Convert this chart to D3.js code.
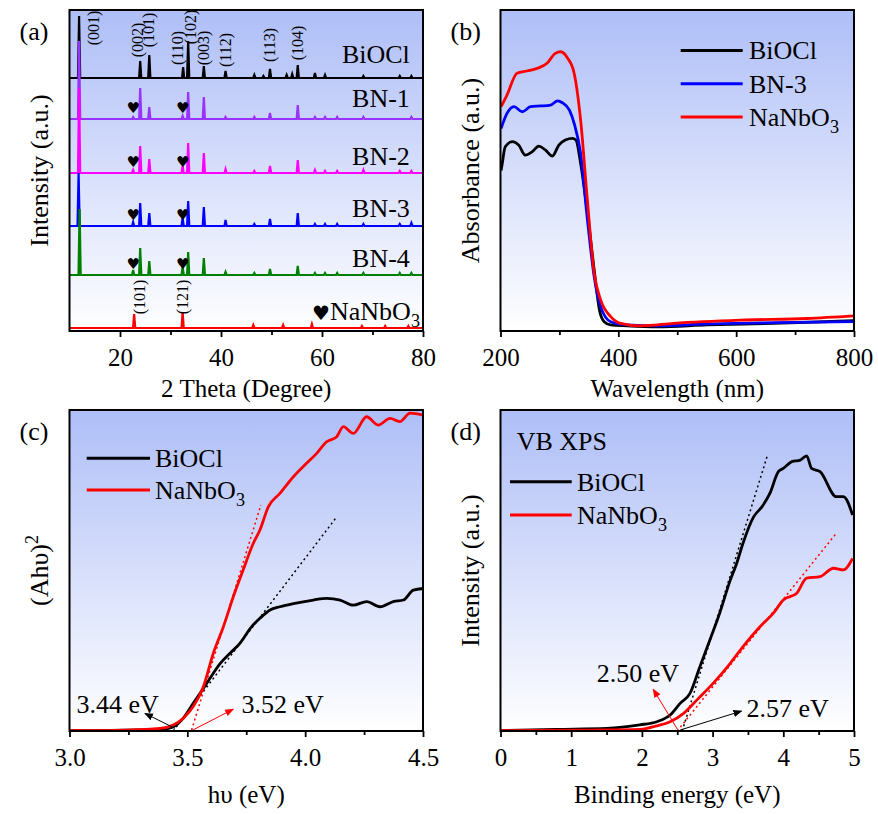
<!DOCTYPE html>
<html>
<head>
<meta charset="utf-8">
<script src="https://cdn.jsdelivr.net/npm/d3@7"></script>
<style>
  body { margin: 0; background: #fff; }
  text { font-family: "Liberation Serif", "Times New Roman", serif; fill: #000; }
</style>
</head>
<body>
<div id="chart"></div>
<script>
// ---------- (a) XRD patterns: [2theta, peak height] ----------
var xrdNames   = ["BiOCl", "BN-1", "BN-2", "BN-3", "BN-4", "NaNbO3"];
var xrdColors  = ["#000000", "#9933ff", "#ff00ff", "#0000ff", "#008000", "#ff0000"];
var xrdOffsets = [253, 212, 158, 105, 56, 3];
var peaksBiOCl = [[11.9,62],[24.0,17],[25.8,23],[32.5,11],[33.5,37],[36.6,12],[40.9,7],[46.6,3],[48.4,2],[49.7,9],[53.0,3],[54.1,4],[55.2,13],[58.6,5],[60.6,3],[68.2,2],[75.4,2],[77.7,2]];
var peaksBN1   = [[11.9,78],[22.6,2],[24.0,31],[25.8,12],[32.4,3],[33.5,27],[36.6,22],[40.9,2],[46.6,2],[49.7,6],[55.2,14],[58.6,2],[60.6,2],[63.0,2],[68.2,2],[77.7,2]];
var peaksBN2   = [[11.9,85],[22.6,3],[24.0,27],[25.8,14],[32.4,7],[33.5,30],[36.6,20],[40.9,4],[46.6,2],[49.7,7],[55.2,13],[58.6,3],[60.6,2],[63.0,2],[68.2,3],[75.4,2],[77.7,2]];
var peaksBN3   = [[11.8,53],[22.6,4],[24.0,23],[25.8,13],[32.4,8],[33.5,25],[36.6,19],[40.9,6],[46.6,2],[49.7,7],[55.2,13],[58.6,2],[60.6,2],[63.0,2],[68.2,2],[75.4,2],[77.7,3]];
var peaksBN4   = [[12.0,66],[22.6,5],[24.0,27],[25.8,14],[32.4,8],[33.5,23],[36.6,17],[40.9,3],[46.6,2],[49.7,6],[55.2,9],[58.6,2],[60.6,2],[63.0,2],[68.2,2],[75.4,2],[77.7,2]];
var peaksNaNbO3 = [[22.8,14],[32.4,16],[46.4,3],[52.3,3],[58.0,4],[67.9,2],[72.5,2],[77.1,2]];
var xrdPeaks = [peaksBiOCl, peaksBN1, peaksBN2, peaksBN3, peaksBN4, peaksNaNbO3];
var heartPos = [22.6, 32.4];
// hkl labels: [text, 2theta, intensity]
var hklBiOCl  = [["(001)",14.7,303],["(002)",23.4,291],["(101)",25.7,301],["(110)",31.3,283],["(102)",34.0,304],["(003)",36.6,283],["(112)",40.8,281],["(113)",49.7,286],["(104)",55.2,288]];
var hklNaNbO3 = [["(101)",23.9,34],["(121)",32.4,34]];
var xTicksA = [20, 40, 60, 80], xMinorA = [30, 50, 70];

// ---------- (b) UV-vis absorbance: [wavelength, absorbance] ----------
var uvNames  = ["BiOCl", "BN-3", "NaNbO3"];
var uvColors = ["#000000", "#0000ff", "#ff0000"];
var uvBiOCl  = [[201,0.50],[203,0.522],[208,0.574],[220,0.590],[231,0.579],[242,0.548],[254,0.559],[265,0.576],[276,0.564],[288,0.545],[299,0.579],[310,0.595],[322,0.600],[328,0.595],[336,0.522],[347,0.377],[359,0.190],[368,0.065],[376,0.029],[387,0.019],[415,0.016],[467,0.013],[551,0.019],[664,0.024],[800,0.032]];
var uvBN3    = [[201,0.631],[211,0.678],[223,0.699],[237,0.683],[251,0.699],[268,0.701],[285,0.704],[297,0.717],[305,0.711],[317,0.688],[325,0.647],[336,0.553],[347,0.356],[359,0.169],[370,0.076],[387,0.029],[415,0.019],[467,0.016],[551,0.022],[664,0.026],[800,0.029]];
var uvNaNbO3 = [[201,0.699],[211,0.735],[228,0.803],[245,0.810],[262,0.818],[279,0.834],[293,0.865],[302,0.870],[314,0.850],[325,0.803],[336,0.657],[347,0.418],[359,0.180],[370,0.097],[387,0.045],[404,0.024],[438,0.016],[494,0.024],[607,0.034],[720,0.039],[800,0.047]];
var uvSeries = [uvBiOCl, uvBN3, uvNaNbO3];
var xTicksB = [200, 400, 600, 800], xMinorB = [300, 500, 700];

// ---------- (c) Tauc plot: [hv, (Ahv)^2] ----------
var taucBiOCl  = [[3.00,0.001],[3.384,0.005],[3.44,0.013],[3.483,0.040],[3.525,0.086],[3.582,0.148],[3.639,0.210],[3.681,0.242],[3.723,0.273],[3.773,0.325],[3.808,0.351],[3.851,0.377],[3.893,0.387],[3.950,0.397],[4.035,0.408],[4.091,0.413],[4.148,0.408],[4.204,0.392],[4.261,0.403],[4.318,0.387],[4.374,0.403],[4.417,0.408],[4.459,0.439],[4.50,0.444]];
var taucNaNbO3 = [[3.00,0.001],[3.243,0.003],[3.384,0.008],[3.44,0.019],[3.483,0.040],[3.525,0.076],[3.568,0.138],[3.610,0.242],[3.653,0.325],[3.695,0.418],[3.737,0.502],[3.780,0.585],[3.808,0.626],[3.844,0.699],[3.893,0.740],[3.950,0.792],[4.006,0.834],[4.049,0.865],[4.091,0.901],[4.134,0.917],[4.162,0.948],[4.204,0.927],[4.261,0.979],[4.310,0.953],[4.360,0.974],[4.402,0.964],[4.445,0.990],[4.50,0.984]];
var taucFitBiOCl  = [[3.44,0.0],[4.134,0.667]];
var taucFitNaNbO3 = [[3.518,0.003],[3.812,0.704]];
var xTicksC = [3.0, 3.5, 4.0, 4.5], xMinorC = [3.25, 3.75, 4.25];

// ---------- (d) VB XPS: [binding energy, intensity] ----------
var vbBiOCl  = [[0.007,0.001],[0.79,0.005],[1.50,0.008],[1.97,0.019],[2.21,0.029],[2.40,0.050],[2.54,0.086],[2.68,0.117],[2.82,0.200],[2.96,0.283],[3.10,0.367],[3.25,0.470],[3.34,0.522],[3.43,0.585],[3.58,0.667],[3.70,0.699],[3.81,0.740],[3.93,0.808],[4.00,0.818],[4.12,0.839],[4.24,0.844],[4.33,0.857],[4.40,0.818],[4.52,0.808],[4.75,0.730],[4.85,0.730],[4.98,0.673]];
var vbNaNbO3 = [[0.007,0.001],[1.27,0.003],[1.97,0.005],[2.21,0.016],[2.40,0.029],[2.59,0.055],[2.78,0.097],[3.01,0.149],[3.25,0.211],[3.43,0.263],[3.67,0.325],[3.86,0.367],[4.00,0.408],[4.19,0.429],[4.33,0.476],[4.52,0.481],[4.71,0.507],[4.85,0.502],[4.98,0.538]];
var vbFitBiOCl  = [[2.57,0.0],[3.77,0.855]];
var vbFitNaNbO3 = [[2.50,0.0],[4.75,0.616]];
var xTicksD = [0, 1, 2, 3, 4, 5], xMinorD = [0.5, 1.5, 2.5, 3.5, 4.5];

// ---------- layout ----------
var W = 878, H = 814;
var svg = d3.select("#chart").append("svg").attr("width", W).attr("height", H);

var grad = svg.append("defs").append("linearGradient")
    .attr("id", "bg").attr("x1", 0).attr("y1", 0).attr("x2", 0).attr("y2", 1);
grad.append("stop").attr("offset", "0%").attr("stop-color", "#aebef7");
grad.append("stop").attr("offset", "100%").attr("stop-color", "#ffffff");

function marker(id, color) {
  svg.select("defs").append("marker")
    .attr("id", id).attr("viewBox", "0 -5 10 10")
    .attr("refX", 9).attr("refY", 0)
    .attr("markerWidth", 9).attr("markerHeight", 9)
    .attr("markerUnits", "userSpaceOnUse")
    .attr("orient", "auto")
    .append("path").attr("d", "M0,-4L10,0L0,4Z").attr("fill", color);
}
marker("arrBlack", "#000");
marker("arrRed", "#ff0000");

// one frame per panel: background, x axis, titles
function panel(box, xDom, yDom, ticks, minor, fmt, xTitle, yTitle, label, titleGap) {
  var x = d3.scaleLinear().domain(xDom).range([box.x0, box.x1]);
  var y = d3.scaleLinear().domain(yDom).range([box.y1, box.y0]);
  var g = svg.append("g");
  g.append("rect").attr("x", box.x0).attr("y", box.y0)
    .attr("width", box.x1 - box.x0).attr("height", box.y1 - box.y0)
    .attr("fill", "url(#bg)");

  var clip = "clip" + label;
  svg.select("defs").append("clipPath").attr("id", clip)
    .append("rect").attr("x", box.x0).attr("y", box.y0)
    .attr("width", box.x1 - box.x0).attr("height", box.y1 - box.y0);
  var plot = g.append("g").attr("clip-path", "url(#" + clip + ")");

  var ax = g.append("g").attr("transform", "translate(0," + box.y1 + ")")
    .call(d3.axisBottom(x).tickValues(ticks).tickSize(6).tickSizeOuter(0)
      .tickPadding(11).tickFormat(fmt));
  ax.attr("font-family", "Liberation Serif").attr("font-size", 25);
  ax.selectAll("line").attr("stroke-width", 1.8);
  ax.select(".domain").remove();
  g.append("g").attr("transform", "translate(0," + box.y1 + ")")
    .call(d3.axisBottom(x).tickValues(minor).tickSize(4).tickSizeOuter(0).tickFormat(""))
    .call(function(s) { s.select(".domain").remove(); s.selectAll("line").attr("stroke-width", 1.8); });

  g.append("text").attr("x", (box.x0 + box.x1) / 2).attr("y", box.y1 + titleGap)
    .attr("text-anchor", "middle").attr("font-size", 25).text(xTitle);
  var yt = g.append("text")
    .attr("transform", "translate(" + (box.x0 - 22) + "," + ((box.y0 + box.y1) / 2) + ") rotate(-90)")
    .attr("text-anchor", "middle").attr("font-size", 26);
  yTitle(yt);
  g.append("text").attr("x", box.x0 - 50).attr("y", box.y0 + 30)
    .attr("font-size", 26).text("(" + label + ")");
  return { x: x, y: y, g: g, plot: plot, box: box };
}

function frame(p) {
  p.g.append("rect").attr("x", p.box.x0).attr("y", p.box.y0)
    .attr("width", p.box.x1 - p.box.x0).attr("height", p.box.y1 - p.box.y0)
    .attr("fill", "none").attr("stroke", "#000").attr("stroke-width", 2);
}

function nanbo(sel, size) {
  sel.append("tspan").text("NaNbO");
  sel.append("tspan").attr("font-size", size * 0.7).attr("dy", size * 0.25).text("3");
}

var boxA = { x0: 69.5, x1: 423, y0: 10, y1: 331 };
var boxB = { x0: 500.5, x1: 854, y0: 10, y1: 331 };
var boxC = { x0: 69.5, x1: 423, y0: 410, y1: 731 };
var boxD = { x0: 500.5, x1: 854, y0: 410, y1: 731 };

// ---------- panel (a) ----------
var pA = panel(boxA, [10, 80], [0, 321], xTicksA, xMinorA, d3.format("d"),
  "2 Theta (Degree)", function(t) { t.text("Intensity (a.u.)"); }, "a", 66);
var lineA = d3.line().x(function(d) { return pA.x(d[0]); }).y(function(d) { return pA.y(d[1]); });
xrdPeaks.forEach(function(peaks, i) {
  var off = xrdOffsets[i], pts = [[10, off]];
  peaks.forEach(function(p) {
    pts.push([p[0] - 0.22, off], [p[0], off + p[1]], [p[0] + 0.22, off]);
  });
  pts.push([80, off]);
  pA.plot.append("path").attr("d", lineA(pts))
    .attr("fill", "none").attr("stroke", xrdColors[i]).attr("stroke-width", 2.2);
});
// hearts on BN samples
[1, 2, 3, 4].forEach(function(i) {
  heartPos.forEach(function(p) {
    pA.g.append("text").attr("x", pA.x(p)).attr("y", pA.y(xrdOffsets[i] + 6))
      .attr("text-anchor", "middle")
      .style("font-family", "DejaVu Sans").attr("font-size", 15).text("\u2665");
  });
});
hklBiOCl.concat(hklNaNbO3).forEach(function(h) {
  pA.g.append("text")
    .attr("transform", "translate(" + pA.x(h[1]) + "," + pA.y(h[2]) + ") rotate(-90)")
    .attr("text-anchor", "middle").attr("dominant-baseline", "central")
    .attr("font-size", 16).text(h[0]);
});
var nameGap = [15, 12, 8, 9, 8, 8];
xrdNames.forEach(function(n, i) {
  var t = pA.g.append("text").attr("x", i === 5 ? pA.x(79.4) : pA.x(77.4))
    .attr("y", pA.y(xrdOffsets[i] + nameGap[i]))
    .attr("text-anchor", "end").attr("font-size", 26);
  if (i === 5) {
    t.append("tspan").style("font-family", "DejaVu Sans").attr("font-size", 20).text("\u2665");
    nanbo(t, 26);
  } else t.text(n);
});
frame(pA);

// ---------- panel (b) ----------
var pB = panel(boxB, [200, 800], [0, 1], xTicksB, xMinorB, d3.format("d"),
  "Wavelength (nm)", function(t) { t.text("Absorbance (a.u.)"); }, "b", 66);
var lineB = d3.line().curve(d3.curveMonotoneX)
  .x(function(d) { return pB.x(d[0]); }).y(function(d) { return pB.y(d[1]); });
uvSeries.forEach(function(s, i) {
  pB.plot.append("path").attr("d", lineB(s)).attr("fill", "none")
    .attr("stroke", uvColors[i]).attr("stroke-width", 2.8);
});
uvNames.forEach(function(n, i) {
  var ly = pB.y(0.874) + i * 33.3;
  pB.g.append("line").attr("x1", 680.7).attr("x2", 742.7).attr("y1", ly).attr("y2", ly)
    .attr("stroke", uvColors[i]).attr("stroke-width", 3);
  var t = pB.g.append("text").attr("x", 749).attr("y", ly + 9).attr("font-size", 26);
  if (n === "NaNbO3") nanbo(t, 26); else t.text(n);
});
frame(pB);

// ---------- panel (c) ----------
var pC = panel(boxC, [3, 4.5], [0, 1], xTicksC, xMinorC, d3.format(".1f"),
  "h\u03c5 (eV)", function(t) {
    t.append("tspan").text("(Ah\u03c5)");
    t.append("tspan").attr("font-size", 18).attr("dy", -10).text("2");
  }, "c", 72);
var lineC = d3.line().curve(d3.curveMonotoneX)
  .x(function(d) { return pC.x(d[0]); }).y(function(d) { return pC.y(d[1]); });
pC.plot.append("path").attr("d", lineC(taucFitBiOCl)).attr("fill", "none")
  .attr("stroke", "#000").attr("stroke-width", 1.5).attr("stroke-dasharray", "2,3");
pC.plot.append("path").attr("d", lineC(taucFitNaNbO3)).attr("fill", "none")
  .attr("stroke", "#ff0000").attr("stroke-width", 1.5).attr("stroke-dasharray", "2,3");
pC.plot.append("path").attr("d", lineC(taucBiOCl)).attr("fill", "none")
  .attr("stroke", "#000").attr("stroke-width", 2.8);
pC.plot.append("path").attr("d", lineC(taucNaNbO3)).attr("fill", "none")
  .attr("stroke", "#ff0000").attr("stroke-width", 2.8);
pC.g.append("line").attr("x1", pC.x(3.448)).attr("y1", pC.y(0.008))
  .attr("x2", pC.x(3.32)).attr("y2", pC.y(0.055))
  .attr("stroke", "#000").attr("stroke-width", 1).attr("marker-end", "url(#arrBlack)");
pC.g.append("line").attr("x1", pC.x(3.518)).attr("y1", pC.y(0.001))
  .attr("x2", pC.x(3.695)).attr("y2", pC.y(0.068))
  .attr("stroke", "#ff0000").attr("stroke-width", 1).attr("marker-end", "url(#arrRed)");
pC.g.append("text").attr("x", pC.x(3.03)).attr("y", pC.y(0.056)).attr("font-size", 26).text("3.44 eV");
pC.g.append("text").attr("x", pC.x(3.73)).attr("y", pC.y(0.056)).attr("font-size", 26).text("3.52 eV");
[["BiOCl", "#000"], ["NaNbO3", "#ff0000"]].forEach(function(l, i) {
  var ly = 458.3 + i * 31.7;
  pC.g.append("line").attr("x1", 86.7).attr("x2", 150).attr("y1", ly).attr("y2", ly)
    .attr("stroke", l[1]).attr("stroke-width", 3);
  var t = pC.g.append("text").attr("x", 155).attr("y", ly + 9).attr("font-size", 26);
  if (l[0] === "NaNbO3") nanbo(t, 26); else t.text(l[0]);
});
frame(pC);

// ---------- panel (d) ----------
var pD = panel(boxD, [0, 5], [0, 1], xTicksD, xMinorD, d3.format("d"),
  "Binding energy (eV)", function(t) { t.text("Intensity (a.u.)"); }, "d", 72);
var lineD = d3.line().curve(d3.curveMonotoneX)
  .x(function(d) { return pD.x(d[0]); }).y(function(d) { return pD.y(d[1]); });
pD.plot.append("path").attr("d", lineD(vbFitBiOCl)).attr("fill", "none")
  .attr("stroke", "#000").attr("stroke-width", 1.5).attr("stroke-dasharray", "2,3");
pD.plot.append("path").attr("d", lineD(vbFitNaNbO3)).attr("fill", "none")
  .attr("stroke", "#ff0000").attr("stroke-width", 1.5).attr("stroke-dasharray", "2,3");
pD.plot.append("path").attr("d", lineD(vbBiOCl)).attr("fill", "none")
  .attr("stroke", "#000").attr("stroke-width", 2.8);
pD.plot.append("path").attr("d", lineD(vbNaNbO3)).attr("fill", "none")
  .attr("stroke", "#ff0000").attr("stroke-width", 2.8);
pD.g.append("line").attr("x1", pD.x(2.515)).attr("y1", pD.y(0.001))
  .attr("x2", pD.x(2.16)).attr("y2", pD.y(0.13))
  .attr("stroke", "#ff0000").attr("stroke-width", 1).attr("marker-end", "url(#arrRed)");
pD.g.append("line").attr("x1", pD.x(2.54)).attr("y1", pD.y(0.003))
  .attr("x2", pD.x(3.41)).attr("y2", pD.y(0.062))
  .attr("stroke", "#000").attr("stroke-width", 1).attr("marker-end", "url(#arrBlack)");
pD.g.append("text").attr("x", pD.x(1.36)).attr("y", pD.y(0.154)).attr("font-size", 26).text("2.50 eV");
pD.g.append("text").attr("x", pD.x(3.48)).attr("y", pD.y(0.045)).attr("font-size", 26).text("2.57 eV");
pD.g.append("text").attr("x", 516.7).attr("y", 450).attr("font-size", 26).text("VB XPS");
[["BiOCl", "#000"], ["NaNbO3", "#ff0000"]].forEach(function(l, i) {
  var ly = 481.7 + i * 33.3;
  pD.g.append("line").attr("x1", 510).attr("x2", 571.7).attr("y1", ly).attr("y2", ly)
    .attr("stroke", l[1]).attr("stroke-width", 3);
  var t = pD.g.append("text").attr("x", 577).attr("y", ly + 9).attr("font-size", 26);
  if (l[0] === "NaNbO3") nanbo(t, 26); else t.text(l[0]);
});
frame(pD);
</script>
</body>
</html>
